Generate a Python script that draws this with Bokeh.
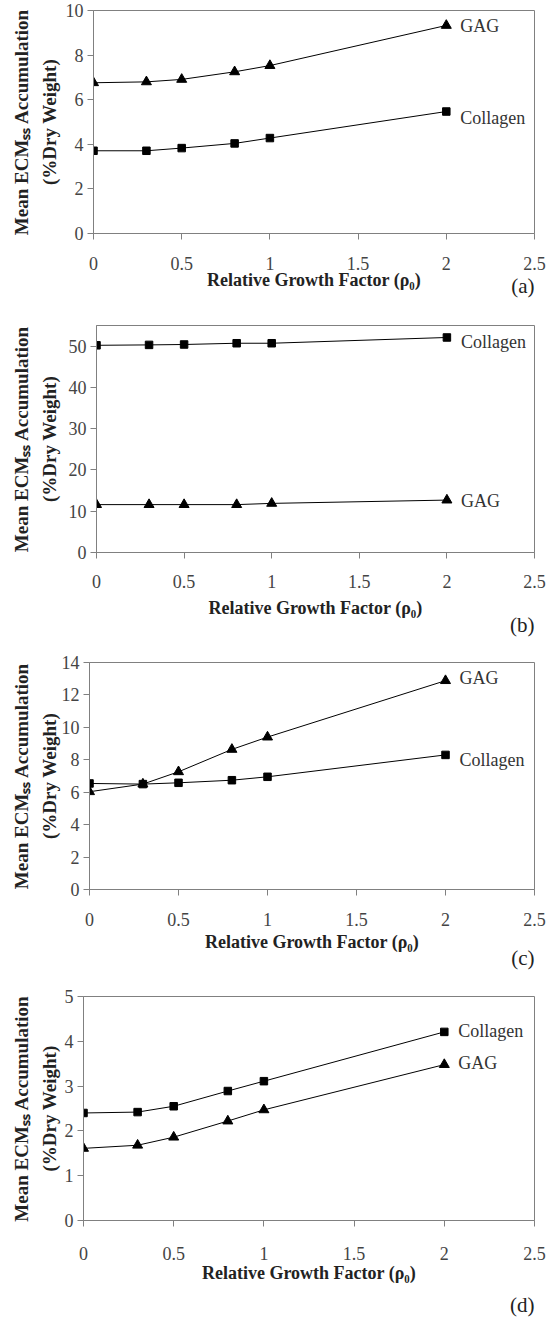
from bokeh.plotting import figure
from bokeh.models import FixedTicker, Range1d, Title
from bokeh.embed import file_html
from bokeh.resources import INLINE
from bokeh.core.properties import value

# ---------------- data ----------------
x_vals = [0, 0.3, 0.5, 0.8, 1, 2]
x_ticks = [0, 0.5, 1, 1.5, 2, 2.5]
x_tick_labels = ["0", "0.5", "1", "1.5", "2", "2.5"]

gag_a = [6.76, 6.80, 6.91, 7.25, 7.53, 9.33]
collagen_a = [3.71, 3.71, 3.83, 4.04, 4.28, 5.47]
gag_b = [11.6, 11.6, 11.6, 11.6, 11.9, 12.7]
collagen_b = [50.2, 50.3, 50.4, 50.7, 50.7, 52.1]
gag_c = [6.03, 6.50, 7.26, 8.64, 9.40, 12.88]
collagen_c = [6.54, 6.50, 6.58, 6.74, 6.95, 8.30]
gag_d = [1.61, 1.68, 1.86, 2.22, 2.47, 3.48]
collagen_d = [2.40, 2.42, 2.55, 2.89, 3.11, 4.21]

y_ticks_a = [0, 2, 4, 6, 8, 10]
y_ticks_b = [0, 10, 20, 30, 40, 50]
y_ticks_c = [0, 2, 4, 6, 8, 10, 12, 14]
y_ticks_d = [0, 1, 2, 3, 4, 5]
y_max = [10, 55, 14, 5]

panel_tags = ["(a)", "(b)", "(c)", "(d)"]
series_names = ["GAG", "Collagen"]
x_title = "Relative Growth Factor (\u03c1\u2080)"
y_title_1 = "Mean ECM\u209b\u209b Accumulation"
y_title_2 = "(%Dry Weight)"

# ---------------- layout (pixel geometry) ----------------
W = 548
SERIF = "Liberation Serif"
fig_heights = [313, 332, 333, 343]
border_top = [10, 12, 17, 18]
border_bottom = [80, 93, 89, 97]
border_left = [93, 96, 89, 83]
border_right = 14
x_label_standoff = [17, 16, 17, 20]
x_title_standoff = [-3, 7, 3, 0]
tag_valign = ["top", "bottom", "bottom", "bottom"]
tag_standoff = [-38, -20, -21, 10]
y_label2_standoff = [3, 6, -1, 2]
y_title1_standoff = [7, 7, 7, 7]
label_dy = [(1, 6), (1, 5), (-3, 5), (-2, -1)]

gags = [gag_a, gag_b, gag_c, gag_d]
cols = [collagen_a, collagen_b, collagen_c, collagen_d]
yticks = [y_ticks_a, y_ticks_b, y_ticks_c, y_ticks_d]

figs = []
for i in range(4):
    p = figure(width=W, height=fig_heights[i],
               x_range=Range1d(0, 2.5), y_range=Range1d(0, y_max[i]),
               output_backend="svg", toolbar_location=None,
               min_border_top=border_top[i], min_border_bottom=border_bottom[i],
               min_border_left=border_left[i], min_border_right=border_right)
    p.grid.visible = False
    p.outline_line_color = "#808080"
    p.outline_line_width = 1
    p.background_fill_color = "white"
    p.border_fill_color = "white"

    for ax in (p.xaxis[0], p.yaxis[0]):
        ax.axis_line_color = "#808080"
        ax.major_tick_line_color = "#808080"
        ax.minor_tick_line_color = None
        ax.major_tick_in = 0
        ax.major_tick_out = 6
        ax.major_label_text_font = SERIF
        ax.major_label_text_font_size = "18px"
        ax.major_label_text_color = "#444444"
        ax.axis_label_text_font = SERIF
        ax.axis_label_text_font_size = "19px"
        ax.axis_label_text_font_style = "bold"
        ax.axis_label_text_color = "#222222"
    p.xaxis.ticker = FixedTicker(ticks=x_ticks)
    p.xaxis.major_label_overrides = {float(t): l for t, l in zip(x_ticks, x_tick_labels)}
    p.xaxis.major_label_standoff = x_label_standoff[i]
    p.xaxis.axis_label = x_title
    p.xaxis.axis_label_text_font_size = "18px"
    p.xaxis.axis_label_standoff = x_title_standoff[i]
    p.yaxis.ticker = FixedTicker(ticks=yticks[i])
    p.yaxis.major_label_standoff = 4
    p.yaxis.axis_label = y_title_2
    p.yaxis.axis_label_standoff = y_label2_standoff[i]

    p.add_layout(Title(text=panel_tags[i], align="right", vertical_align=tag_valign[i],
                       standoff=tag_standoff[i],
                       text_font=SERIF, text_font_size="21px", text_font_style="normal",
                       text_color="#222222"), "below")
    p.add_layout(Title(text=y_title_1, align="center", offset=-4,
                       standoff=y_title1_standoff[i],
                       text_font=SERIF, text_font_size="19px", text_font_style="bold",
                       text_color="#222222"), "left")

    # series
    p.line(x_vals, gags[i], line_color="black", line_width=1)
    p.line(x_vals, cols[i], line_color="black", line_width=1)
    p.scatter(x_vals, gags[i], marker="triangle", size=10, fill_color="black", line_color="black")
    p.scatter(x_vals, cols[i], marker="square", size=7.5, fill_color="black", line_color="black")

    # series labels
    for name, ser, off in ((series_names[0], gags[i], label_dy[i][0]),
                           (series_names[1], cols[i], label_dy[i][1])):
        p.text(x=[x_vals[-1]], y=[ser[-1]], text=[name], x_offset=14, y_offset=off,
               text_align="left", text_baseline="middle",
               text_font=value(SERIF), text_font_size="18px", text_color="#333333")
    figs.append(p)

# separate roots, so each panel keeps its own frame position
open("out.html", "w").write(file_html(figs, INLINE))
